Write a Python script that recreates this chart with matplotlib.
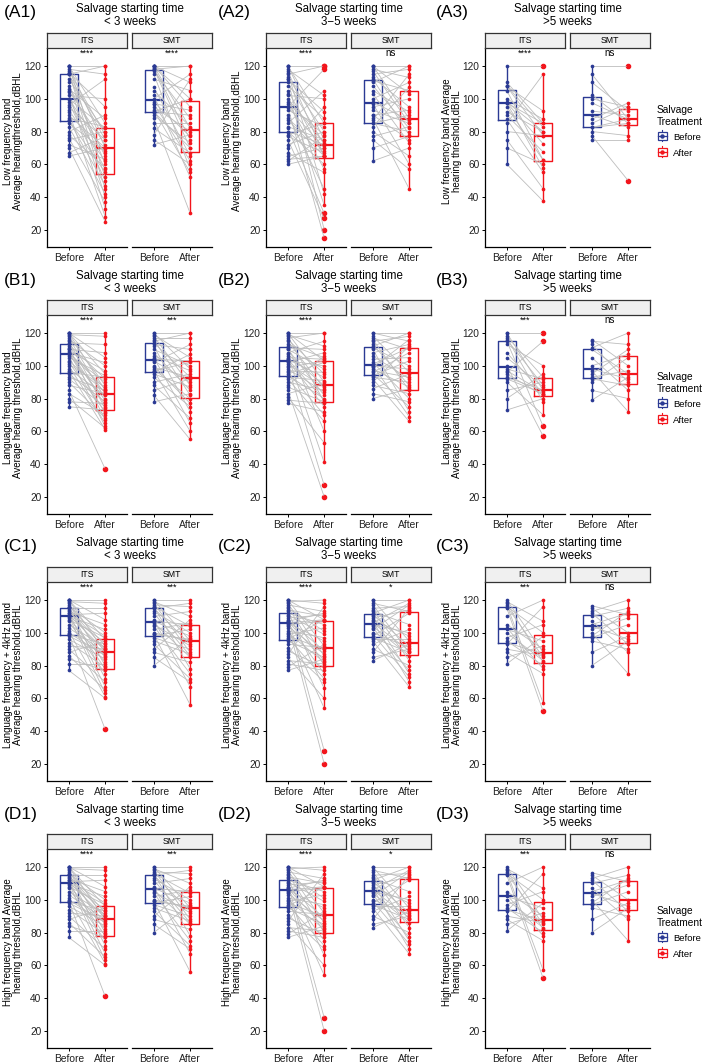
import numpy as np
import matplotlib
matplotlib.use("Agg")
import matplotlib.pyplot as plt
from matplotlib.lines import Line2D
from matplotlib.patches import Rectangle
from matplotlib.legend_handler import HandlerBase

plt.rcParams['font.family'] = ['Liberation Sans', 'DejaVu Sans']

# ---- data: paired hearing thresholds (dBHL) ----
# Row A: low frequency band
A1_ITS_BEFORE = [120,120,120,120,118,117,116,116,115,115,115,112,110,108,106,105,104,102,100,100,
                 100,98,96,95,93,92,90,88,87,87,85,83,80,78,76,75,72,70,67,65]
A1_ITS_AFTER = [120,85,70,52,115,78,45,95,75,60,120,80,40,65,88,72,33,100,57,82,
                67,50,112,75,62,28,70,83,55,47,68,42,90,58,37,80,63,25,77,70]
A1_SMT_BEFORE = [120,120,120,120,120,119,118,118,117,115,112,107,105,102,100,98,97,97,95,93,
                 92,92,92,90,88,85,82,78,75,72]
A1_SMT_AFTER = [100,120,82,95,110,75,120,70,88,57,105,65,83,52,115,77,93,62,80,55,
                90,70,100,73,30,85,67,112,60,78]
A2_ITS_BEFORE = [120,120,120,118,117,116,115,113,112,112,110,108,105,103,102,100,98,97,95,95,
                 95,93,90,88,87,85,83,82,80,80,78,77,75,72,70,67,65,63,62,60]
A2_ITS_AFTER = [120,75,85,102,65,42,120,80,92,20,72,88,65,35,100,73,57,78,15,118,
                70,83,45,68,65,105,75,30,72,60,85,67,27,80,95,55,70,65,77,65]
A2_SMT_BEFORE = [120,120,120,118,117,115,113,112,111,110,108,105,103,100,98,97,95,93,90,90,
                 88,87,85,85,83,80,77,75,70,62]
A2_SMT_AFTER = [120,88,103,113,85,118,95,78,105,120,82,92,73,110,87,60,100,85,75,93,
                45,115,80,90,107,65,83,57,77,70]
A3_ITS_BEFORE = [120,110,108,107.5,107.5,105,100,98,97.5,97.5,97.5,95,92,90,87.5,85,80,75,70,60]
A3_ITS_AFTER = [120,85,82.5,92.5,77.5,62.5,87.5,80,57.5,85,72.5,62.5,80,67.5,55,115,77.5,45,60,37.5]
A3_SMT_BEFORE = [120,115,110,102.5,100,97.5,92.5,90,87.5,85,82.5,82.5,80,77.5,75]
A3_SMT_AFTER = [120,87.5,92.5,85,95,87.5,90,82.5,97.5,95,85,87.5,77.5,50,75]

# Row B: language frequency band
B1_ITS_BEFORE = [120,120,120,120,119,118,117,116,115,114,113,112,111,110,110,109,108,108,108,107,
                 107,106,105,103,102,101,100,98,97,96,95,93,92,90,88,85,83,80,78,75]
B1_ITS_AFTER = [120,95,85,105,118,88,80,100,74,113,92,83,67,108,76,97,86,71,102,79,
                90,63,94,84,72,87,65,82,61,93,78,85,75,68,83,37,70,62,77,73]
B1_SMT_BEFORE = [120,120,119,118,117,116,115,114,113,112,110,108,106,105,104,103,102,100,99,98,
                 97,97,96,95,93,90,88,85,82,78]
B1_SMT_AFTER = [120,98,105,88,117,82,120,93,110,72,100,85,97,65,103,90,113,77,93,80,
                102,60,107,87,75,95,68,92,55,83]
B2_ITS_BEFORE = [120,120,120,119,118,117,116,115,113,112,111,110,110,108,107,106,105,104,104,103,
                 103,102,101,100,99,98,97,96,95,94,93,92,90,88,87,85,83,81,79,77]
B2_ITS_AFTER = [120,103,90,112,78,120,95,86,105,60,110,98,82,115,88,41,104,93,79,100,
                75,108,87,27,103,84,96,70,102,80,91,66,85,106,78,20,89,53,77,72]
B2_SMT_BEFORE = [120,120,118,117,116,115,113,112,111,110,108,106,104,102,101,100,100,99,98,97,
                 96,95,94,93,92,90,88,86,83,80]
B2_SMT_AFTER = [115,120,96,110,85,118,88,120,100,72,113,92,105,80,111,98,69,116,87,93,
                108,75,103,90,66,112,83,95,78,86]
B3_ITS_BEFORE = [120,120,118,117,116,115,113,108,105,100,98,97,96,95,93,92,90,85,80,73]
B3_ITS_AFTER = [120,85,93,78,88,63,100,83,87,57,92,84,115,82,85,83,70,90,95,80]
B3_SMT_BEFORE = [116,115,113,111,110,105,100,98,97,95,93,92,90,85,79]
B3_SMT_AFTER = [100,113,90,120,95,85,107,92,72,110,97,88,105,80,93]

# Row C: language frequency + 4kHz band
C1_ITS_BEFORE = [120,120,120,120,119,118,117,116,116,115,115,114,113,112,112,111,111,110,110,110,
                 110,109,108,107,105,103,101,100,99,99,98,96,94,92,90,88,86,84,81,77]
C1_ITS_AFTER = [120,96,88,108,118,80,92,100,72,115,90,85,105,67,98,89,112,78,94,63,
                102,82,97,75,91,88,61,86,93,41,87,84,79,90,70,95,65,77,81,60]
C1_SMT_BEFORE = [120,120,119,118,117,116,116,115,115,113,112,110,108,107,107,106,105,104,102,100,
                 99,99,98,97,95,93,90,88,85,80]
C1_SMT_AFTER = [120,95,110,88,116,104,78,118,93,100,86,113,67,98,105,85,92,75,106,95,
                96,56,102,90,87,72,108,82,70,97]
C2_ITS_BEFORE = [120,120,120,119,118,117,116,115,114,113,112,111,110,109,108,107,107,106,106,106,
                 106,105,104,103,101,100,99,98,97,96,95,93,91,89,87,85,83,81,79,77]
C2_ITS_AFTER = [118,92,108,120,86,113,80,101,110,66,105,99,28,111,89,83,112,75,108,95,
                20,107,87,54,97,82,103,90,72,108,85,91,70,79,116,60,81,77,93,84]
C2_SMT_BEFORE = [120,120,118,117,115,114,113,112,111,110,109,108,107,106,106,105,104,103,102,100,
                 99,98,97,96,95,93,90,88,85,83]
C2_SMT_AFTER = [120,95,113,88,116,83,105,120,92,75,114,98,70,118,89,100,86,77,117,91,
                73,112,88,96,67,102,80,115,90,93]
C3_ITS_BEFORE = [120,119,118,117,116,116,115,110,105,103,102,100,97,95,94,93,90,88,85,81]
C3_ITS_AFTER = [88,107,82,57,100,85,52,120,90,78,95,83,105,80,87,116,86,75,92,98]
C3_SMT_BEFORE = [116.5,115,113,112,110,107,105,104,102,100,98,97,95,88,80]
C3_SMT_AFTER = [111,100,120,93,115,88,112,96,109,75,113,105,90,98,95]

ROWS = ["A", "B", "C", "D"]
GROUPS = ["ITS", "SMT"]
TIMES = ["< 3 weeks", "3\u22125 weeks", ">5 weeks"]
ROW_DATA = {
    "A": [(A1_ITS_BEFORE, A1_ITS_AFTER, A1_SMT_BEFORE, A1_SMT_AFTER),
          (A2_ITS_BEFORE, A2_ITS_AFTER, A2_SMT_BEFORE, A2_SMT_AFTER),
          (A3_ITS_BEFORE, A3_ITS_AFTER, A3_SMT_BEFORE, A3_SMT_AFTER)],
    "B": [(B1_ITS_BEFORE, B1_ITS_AFTER, B1_SMT_BEFORE, B1_SMT_AFTER),
          (B2_ITS_BEFORE, B2_ITS_AFTER, B2_SMT_BEFORE, B2_SMT_AFTER),
          (B3_ITS_BEFORE, B3_ITS_AFTER, B3_SMT_BEFORE, B3_SMT_AFTER)],
    "C": [(C1_ITS_BEFORE, C1_ITS_AFTER, C1_SMT_BEFORE, C1_SMT_AFTER),
          (C2_ITS_BEFORE, C2_ITS_AFTER, C2_SMT_BEFORE, C2_SMT_AFTER),
          (C3_ITS_BEFORE, C3_ITS_AFTER, C3_SMT_BEFORE, C3_SMT_AFTER)],
}
ROW_DATA["D"] = ROW_DATA["C"]   # row D in the figure repeats row C

SIGNIF = {
    "A": [("****", "****"), ("****", "ns"), ("****", "ns")],
    "B": [("****", "***"), ("****", "*"), ("***", "ns")],
    "C": [("****", "***"), ("****", "*"), ("***", "ns")],
    "D": [("****", "***"), ("****", "*"), ("***", "ns")],
}

YLABELS = {
    "A": ["Low frequency band\nAverage hearingthreshold,dBHL",
          "Low frequency band\nAverage hearing threshold,dBHL",
          "Low frequency band Average\nhearing threshold,dBHL"],
    "B": ["Language frequency band\nAverage hearing threshold,dBHL"] * 3,
    "C": ["Language frequency + 4kHz band\nAverage hearing threshold,dBHL"] * 3,
    "D": ["High frequency band Average\nhearing threshold,dBHL"] * 3,
}
LEGEND_ROWS = ["A", "B", "D"]

C_BEFORE = "#2B3A94"
C_AFTER = "#F2151C"
C_LINE = "#BDBDBD"

W, H = 709, 1063
fig = plt.figure(figsize=(W / 100, H / 100), dpi=100)


def fbox(x, y, w, h):
    return [x / W, 1 - (y + h) / H, w / W, h / H]


class BoxKey(HandlerBase):
    def create_artists(self, legend, orig, x0, y0, w, h, fontsize, trans):
        col = orig.get_color()
        cx = x0 + w / 2
        wh = Line2D([cx, cx], [y0 - 0.2 * h, y0 + 1.2 * h], color=col, lw=0.8, transform=trans)
        rect = Rectangle((x0 + 0.1 * w, y0), 0.8 * w, h, fill=True, fc="white",
                         ec=col, lw=0.9, transform=trans)
        med = Line2D([x0 + 0.1 * w, x0 + 0.9 * w], [y0 + h / 2] * 2, color=col, lw=0.9,
                     transform=trans)
        dot = Line2D([cx], [y0 + h / 2], marker="o", ms=2.2, color=col, lw=0, transform=trans)
        return [wh, rect, med, dot]


COL_X = [47, 266, 485]
COL_LABEL_X = [4, 218, 436]
YLAB_X = [13, 232, 452]
FACET_W, GAP = 80, 5
ROW_STEP = 267
PLOT_TOP, PLOT_H, STRIP_H = 48, 199, 15

for ri, row in enumerate(ROWS):
    off = ri * ROW_STEP
    for ci in range(3):
        data = ROW_DATA[row][ci]
        x_left = COL_X[ci]
        panel_w = 2 * FACET_W + GAP
        # title and panel label
        fig.text((x_left + panel_w / 2) / W, 1 - (15.5 + off) / H,
                 "Salvage starting time\n" + TIMES[ci], ha="center", va="center",
                 fontsize=8.3, linespacing=1.15)
        fig.text(COL_LABEL_X[ci] / W, 1 - (13 + off) / H, f"({row}{ci + 1})",
                 ha="left", va="center", fontsize=12.5)
        fig.text(YLAB_X[ci] / W, 1 - (PLOT_TOP + off + 93) / H, YLABELS[row][ci],
                 rotation=90, ha="center", va="center", fontsize=7.0,
                 multialignment="center", linespacing=1.1)
        for gi, grp in enumerate(GROUPS):
            before = np.array(data[2 * gi], dtype=float)
            after = np.array(data[2 * gi + 1], dtype=float)
            x0 = x_left + gi * (FACET_W + GAP)
            ax = fig.add_axes(fbox(x0, PLOT_TOP + off, FACET_W, PLOT_H))
            for vals, pos, col in [(before, 1, C_BEFORE), (after, 2, C_AFTER)]:
                ax.boxplot([vals], positions=[pos], widths=0.5, whis=1.5, showcaps=False,
                           manage_ticks=False, zorder=1,
                           boxprops=dict(color=col, lw=1.0),
                           medianprops=dict(color=col, lw=1.6),
                           whiskerprops=dict(color=col, lw=1.0),
                           flierprops=dict(marker="o", mfc=col, mec=col, ms=3.0))
            ax.plot([1, 2], np.vstack([before, after]), color=C_LINE, lw=0.6, zorder=2)
            ax.scatter(np.full(len(before), 1), before, s=7, color=C_BEFORE, lw=0, zorder=3)
            ax.scatter(np.full(len(after), 2), after, s=7, color=C_AFTER, lw=0, zorder=3)
            sig = SIGNIF[row][ci][gi]
            ax.text(1.5, 128, sig, ha="center", va="center",
                    fontsize=7.0 if sig == "ns" else 6.5)
            ax.set_xlim(0.4, 2.6)
            ax.set_ylim(9.5, 131)
            ax.set_xticks([1, 2])
            ax.set_xticklabels(["Before", "After"], fontsize=7.4)
            ax.set_yticks([20, 40, 60, 80, 100, 120])
            ax.tick_params(axis="both", length=2.5, width=0.7, pad=1.5, labelsize=7.3,
                           labelcolor="#222222")
            ax.tick_params(axis="x", labelsize=7.4)
            for s in ["top", "right"]:
                ax.spines[s].set_visible(False)
            ax.spines["bottom"].set_linewidth(0.9)
            ax.spines["left"].set_linewidth(0.9)
            if gi == 1:
                ax.spines["left"].set_visible(False)
                ax.tick_params(axis="y", left=False, labelleft=False)
            # facet strip
            sax = fig.add_axes(fbox(x0, PLOT_TOP + off - STRIP_H, FACET_W, STRIP_H))
            sax.set_facecolor("#F0F0F0")
            sax.set_xticks([])
            sax.set_yticks([])
            for s in sax.spines.values():
                s.set_color("#333333")
                s.set_linewidth(0.9)
            sax.text(0.5, 0.47, grp, ha="center", va="center", fontsize=6.3,
                     transform=sax.transAxes)
            if ci == 2 and gi == 1 and row in LEGEND_ROWS:
                handles = [Line2D([], [], color=C_BEFORE, label="Before"),
                           Line2D([], [], color=C_AFTER, label="After")]
                leg = ax.legend(handles=handles, handler_map={h: BoxKey() for h in handles},
                                title="Salvage\nTreatment", loc="center left",
                                bbox_to_anchor=(1.08, 0.58), frameon=False, fontsize=6.8,
                                title_fontsize=7.3, handlelength=1.2, handleheight=0.9,
                                handletextpad=0.6, labelspacing=0.7, borderpad=0.0,
                                borderaxespad=0.0)
                leg._legend_box.align = "left"

fig.savefig("out.png", dpi=100)
